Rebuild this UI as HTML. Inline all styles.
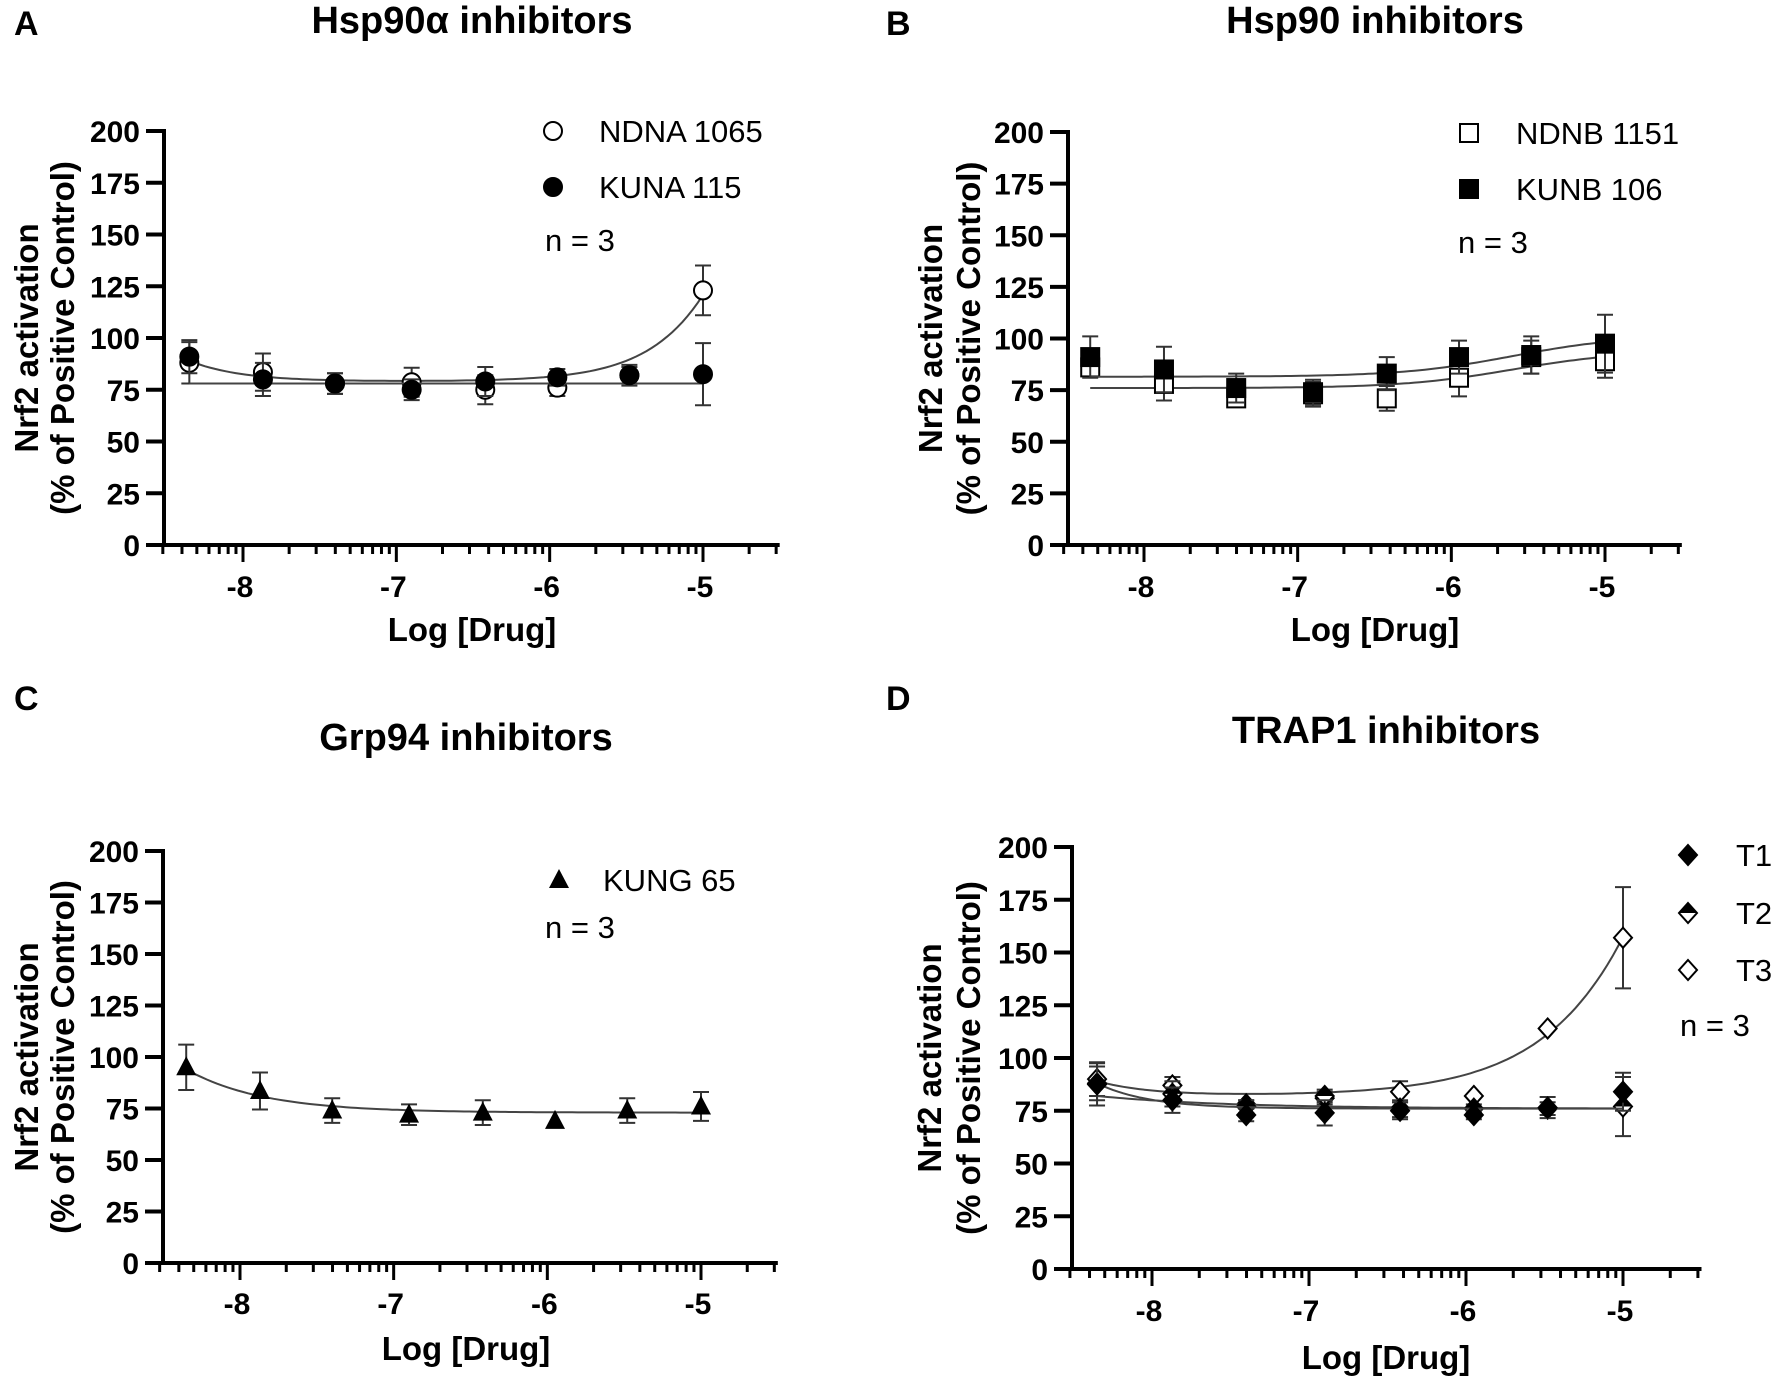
<!DOCTYPE html>
<html><head><meta charset="utf-8"><style>
html,body{margin:0;padding:0;background:#fff;}
svg{display:block;font-family:"Liberation Sans",Arial,sans-serif;}
</style></head><body>
<svg id="fig" width="1772" height="1376" viewBox="0 0 1772 1376" xmlns="http://www.w3.org/2000/svg"></svg>
<script>
// ---- data ----
const logX = [-8.35, -7.87, -7.4, -6.9, -6.42, -5.95, -5.48, -5.0];
const xTickValues = [-8, -7, -6, -5];
const xTickLabels = ['-8', '-7', '-6', '-5'];
const yTickValues = [0, 25, 50, 75, 100, 125, 150, 175, 200];
const yTickLabels = ['0', '25', '50', '75', '100', '125', '150', '175', '200'];

const ndna1065Y = [88, 83.5, 78, 78.6, 75, 76, 82, 123];
const ndna1065Err = [10, 9, 5, 7, 7, 4, 4, 12];
const kuna115Y = [91, 80, 78, 75, 79, 81, 82, 82.5];
const kuna115Err = [8, 8, 5, 5, 7, 4, 5, 15];

const ndnb1151Y = [86, 78, 71, 73, 71, 81, 91, 89];
const ndnb1151Err = [4, 8, 4, 6, 6, 9, 8, 8];
const kunb106Y = [91, 85, 76, 74, 83, 91, 92, 97.5];
const kunb106Err = [10, 11, 7, 6, 8, 8, 9, 14];

const kung65Y = [95, 83.5, 74, 72, 73, 69, 74, 76];
const kung65Err = [11, 9, 6, 5, 6, 0, 6, 7];

const t1Y = [87.5, 80, 73, 74, 75, 73, 76.5, 84];
const t1Err = [10, 6, 3, 6, 4, 2, 5, 9];
const t2Y = [88, 83, 77, 82, 76, 76, 76, 77];
const t2Err = [8, 6, 3, 3, 4, 2, 3, 14];
const t3Y = [90, 87, 78, 81, 84, 82, 114, 157];
const t3Err = [8, 4, 2, 3, 5, 0, 0, 24];

// fit parameters: [bottom, decayAmp, decayRate, riseTop, riseLogEC50, riseHill]
const ndna1065Fit = [79, 10, 3, 500, -4.2, 1.3];
const kuna115Fit = [78, 0, 1, 0, -5, 1];
const ndnb1151Fit = [76, 0, 1, 18, -5.6, 1.2];
const kunb106Fit = [81.5, 0, 1, 20, -5.6, 1.2];
const kung65Fit = [73, 21, 2, 0, -5, 1];
const t1Fit = [76, 12, 3, 0, -5, 1];
const t2Fit = [76, 6, 1.2, 0, -5, 1];
const t3Fit = [82, 7, 3, 1000, -3.79, 0.9];

// ---- drawing ----
const NS = 'http://www.w3.org/2000/svg';
const svg = document.getElementById('fig');
function el(tag, attrs, parent) {
  const e = document.createElementNS(NS, tag);
  for (const k in attrs) e.setAttribute(k, attrs[k]);
  (parent || svg).appendChild(e);
  return e;
}
function txt(s, attrs, parent) { const t = el('text', attrs, parent); t.textContent = s; return t; }
function fitY(p, x) {
  return p[0] + p[1] * Math.exp(-(x + 8.35) * p[2]) + p[3] / (1 + Math.pow(10, (p[4] - x) * p[5]));
}

function marker(g, shape, cx, cy) {
  let m;
  if (shape === 'circleOpen' || shape === 'circleFilled') {
    m = el('circle', {cx: cx, cy: cy, r: 9, fill: shape === 'circleOpen' ? '#fff' : '#000', stroke: '#000', 'stroke-width': 2}, g);
  } else if (shape === 'squareOpen' || shape === 'squareFilled') {
    m = el('rect', {x: cx - 9, y: cy - 9, width: 18, height: 18, fill: shape === 'squareOpen' ? '#fff' : '#000', stroke: '#000', 'stroke-width': 2}, g);
  } else if (shape === 'triangle') {
    m = el('polygon', {points: `${cx},${cy - 11} ${cx + 10},${cy + 8} ${cx - 10},${cy + 8}`, fill: '#000'}, g);
  } else if (shape === 'diamondFilled' || shape === 'diamondOpen') {
    m = el('polygon', {points: `${cx},${cy - 10} ${cx + 9},${cy} ${cx},${cy + 10} ${cx - 9},${cy}`, fill: shape === 'diamondOpen' ? '#fff' : '#000', stroke: '#000', 'stroke-width': 2}, g);
  } else if (shape === 'diamondHalf') {
    m = el('g', {}, g);
    el('polygon', {points: `${cx},${cy - 10} ${cx + 9},${cy} ${cx},${cy + 10} ${cx - 9},${cy}`, fill: '#fff', stroke: '#000', 'stroke-width': 2}, m);
    el('polygon', {points: `${cx},${cy - 10} ${cx + 9},${cy} ${cx - 9},${cy}`, fill: '#000'}, m);
  }
  return m;
}

function panel(cfg) {
  const g = el('g', {});
  
  
  const xmin = -8.523, xmax = -4.5;
  const sx = v => cfg.x8 + (v + 8) * (cfg.x5 - cfg.x8) / 3;
  const sy = v => cfg.y0 + (cfg.y200 - cfg.y0) * v / 200;
  const ax0 = sx(xmin), ax1 = sx(xmax);

  const lab = txt(cfg.letter, {x: cfg.lx, y: cfg.ly, 'font-size': 34, 'font-weight': 'bold'}, g);
  
  
  const t = txt(cfg.title, {x: cfg.tx, y: cfg.ty, 'font-size': 38, 'font-weight': 'bold', 'text-anchor': 'middle'}, g);
  
  

  // axes
  const axes = el('g', {stroke: '#000', 'stroke-width': 4, fill: 'none'}, g);
  
  
  el('line', {x1: cfg.ax, y1: cfg.y200 - 2, x2: cfg.ax, y2: cfg.y0 + 2}, axes);
  el('line', {x1: cfg.ax - 2, y1: cfg.y0, x2: ax1, y2: cfg.y0}, axes);
  yTickValues.forEach((v, i) => {
    el('line', {x1: cfg.ax - 18, y1: sy(v), x2: cfg.ax, y2: sy(v)}, axes);
    const tl = txt(yTickLabels[i], {x: cfg.ax - 24, y: sy(v) + 11, 'font-size': 30, 'font-weight': 'bold', 'text-anchor': 'end', stroke: 'none', fill: '#000'}, g);
    
    
  });
  for (let d = -9; d <= -5; d++) {
    for (let k = 1; k <= 9; k++) {
      const v = d + Math.log10(k);
      if (v < xmin - 0.01 || v > xmax + 0.03) continue;
      const len = (k === 1) ? 17 : 9;
      el('line', {x1: sx(v), y1: cfg.y0, x2: sx(v), y2: cfg.y0 + len, 'stroke-width': 3}, axes);
    }
  }
  xTickValues.forEach((v, i) => {
    const tl = txt(xTickLabels[i], {x: sx(v) - 3, y: cfg.xtly, 'font-size': 30, 'font-weight': 'bold', 'text-anchor': 'middle'}, g);
    
    
  });
  const xt = txt('Log [Drug]', {x: cfg.tx, y: cfg.xty, 'font-size': 33, 'font-weight': 'bold', 'text-anchor': 'middle'}, g);
  
  
  const cy = (cfg.y0 + cfg.y200) / 2;
  const yt1 = txt('Nrf2 activation', {x: 0, y: 0, 'font-size': 33, 'font-weight': 'bold', 'text-anchor': 'middle', transform: `translate(${cfg.yt1x},${cy}) rotate(-90)`}, g);
  
  
  const yt2 = txt('(% of Positive Control)', {x: 0, y: 0, 'font-size': 33, 'font-weight': 'bold', 'text-anchor': 'middle', transform: `translate(${cfg.yt2x},${cy}) rotate(-90)`}, g);
  
  

  // series
  cfg.series.forEach(s => {
    const sg = el('g', {}, g);
    
    
    let dpath = '';
    for (let i = 0; i <= 100; i++) {
      const xv = logX[0] + (logX[logX.length - 1] - logX[0]) * i / 100;
      dpath += (i ? 'L' : 'M') + sx(xv).toFixed(1) + ',' + sy(fitY(s.fit, xv)).toFixed(1);
    }
    const c = el('path', {d: dpath, fill: 'none', stroke: '#444', 'stroke-width': 2}, sg);
    
    
    logX.forEach((xv, i) => {
      const px = sx(xv), e = s.err[i];
      if (e > 0) {
        const eb = el('path', {d: `M${px},${sy(s.y[i] + e)}V${sy(s.y[i] - e)}M${px - 8},${sy(s.y[i] + e)}h16M${px - 8},${sy(s.y[i] - e)}h16`, stroke: '#333', 'stroke-width': 2, fill: 'none'}, sg);
        
        
      }
    });
    logX.forEach((xv, i) => {
      const m = marker(sg, s.shape, sx(xv), sy(s.y[i]));
      
      
    });
  });

  // legend
  cfg.legend.forEach(L => {
    const lg = el('g', {}, g);
    
    
    marker(lg, L.shape, L.mx, L.my);
    txt(L.label, {x: L.tx, y: L.my + 11, 'font-size': 31}, lg);
  });
  const n = txt('n = 3', {x: cfg.nx, y: cfg.ny, 'font-size': 31}, g);
  
  
}

panel({name: 'panel-a', letter: 'A', lx: 14, ly: 35, title: 'Hsp90\u03b1 inhibitors', tx: 472, ty: 33,
  ax: 164, y0: 545, y200: 131, x8: 243, x5: 703, xtly: 597, xty: 641, yt1x: 38, yt2x: 74,
  series: [
    {key: 'ndna-1065', y: ndna1065Y, err: ndna1065Err, fit: ndna1065Fit, shape: 'circleOpen'},
    {key: 'kuna-115', y: kuna115Y, err: kuna115Err, fit: kuna115Fit, shape: 'circleFilled'}],
  legend: [{shape: 'circleOpen', mx: 553, my: 131, tx: 599, label: 'NDNA 1065'},
           {shape: 'circleFilled', mx: 553, my: 187, tx: 599, label: 'KUNA 115'}],
  nx: 545, ny: 251});

panel({name: 'panel-b', letter: 'B', lx: 886, ly: 35, title: 'Hsp90 inhibitors', tx: 1375, ty: 33,
  ax: 1068, y0: 545, y200: 132, x8: 1144, x5: 1605, xtly: 597, xty: 641, yt1x: 942, yt2x: 980,
  series: [
    {key: 'ndnb-1151', y: ndnb1151Y, err: ndnb1151Err, fit: ndnb1151Fit, shape: 'squareOpen'},
    {key: 'kunb-106', y: kunb106Y, err: kunb106Err, fit: kunb106Fit, shape: 'squareFilled'}],
  legend: [{shape: 'squareOpen', mx: 1469, my: 133, tx: 1516, label: 'NDNB 1151'},
           {shape: 'squareFilled', mx: 1469, my: 189, tx: 1516, label: 'KUNB 106'}],
  nx: 1458, ny: 253});

panel({name: 'panel-c', letter: 'C', lx: 14, ly: 710, title: 'Grp94 inhibitors', tx: 466, ty: 750,
  ax: 163, y0: 1263, y200: 851, x8: 240, x5: 701, xtly: 1314, xty: 1360, yt1x: 38, yt2x: 74,
  series: [
    {key: 'kung-65', y: kung65Y, err: kung65Err, fit: kung65Fit, shape: 'triangle'}],
  legend: [{shape: 'triangle', mx: 559, my: 880, tx: 603, label: 'KUNG 65'}],
  nx: 545, ny: 938});

panel({name: 'panel-d', letter: 'D', lx: 886, ly: 710, title: 'TRAP1 inhibitors', tx: 1386, ty: 743,
  ax: 1072, y0: 1269, y200: 847, x8: 1152, x5: 1623, xtly: 1321, xty: 1369, yt1x: 941, yt2x: 980,
  series: [
    {key: 't3', y: t3Y, err: t3Err, fit: t3Fit, shape: 'diamondOpen'},
    {key: 't2', y: t2Y, err: t2Err, fit: t2Fit, shape: 'diamondHalf'},
    {key: 't1', y: t1Y, err: t1Err, fit: t1Fit, shape: 'diamondFilled'}],
  legend: [{shape: 'diamondFilled', mx: 1688, my: 855, tx: 1736, label: 'T1'},
           {shape: 'diamondHalf', mx: 1688, my: 913, tx: 1736, label: 'T2'},
           {shape: 'diamondOpen', mx: 1688, my: 970, tx: 1736, label: 'T3'}],
  nx: 1680, ny: 1036});
</script>
</body></html>
